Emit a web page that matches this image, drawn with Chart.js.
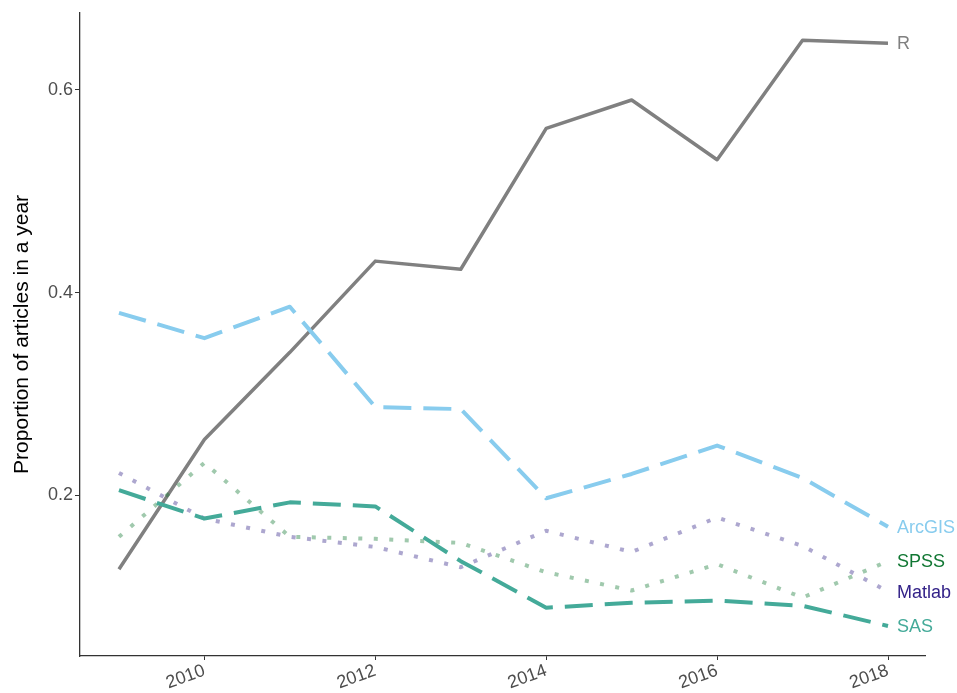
<!DOCTYPE html>
<html>
<head>
<meta charset="utf-8">
<script src="https://cdn.jsdelivr.net/npm/chart.js@4/dist/chart.umd.min.js"></script>
<style>
html,body{margin:0;padding:0;background:#fff;}
#wrap{width:957px;height:693px;position:relative;}
</style>
</head>
<body>
<div id="wrap"><canvas id="c" width="957" height="693"></canvas></div>
<script>
const years = [2009,2010,2011,2012,2013,2014,2015,2016,2017,2018];
const xTicks = [2010,2012,2014,2016,2018];
const yTicks = [0.2,0.4,0.6];
const seriesNames = ['SAS','SPSS','Matlab','ArcGIS','R'];
const R_vals      = [0.127,0.255,0.341,0.431,0.423,0.562,0.590,0.531,0.649,0.646];
const ArcGIS_vals = [0.380,0.355,0.386,0.287,0.285,0.197,0.221,0.249,0.217,0.169];
const SAS_vals    = [0.205,0.177,0.193,0.189,0.135,0.089,0.094,0.096,0.091,0.071];
const Matlab_vals = [0.222,0.177,0.159,0.149,0.129,0.165,0.144,0.178,0.150,0.105];
const SPSS_vals   = [0.159,0.232,0.159,0.157,0.153,0.124,0.106,0.132,0.099,0.135];

const FONT = "'Liberation Sans', Arial, sans-serif";

function pts(vals){ return years.map((y,i)=>({x:y,y:vals[i]})); }

const datasets = [
  {label:'SAS', data:pts(SAS_vals), borderColor:'#44AA99', borderDash:[28,12], borderWidth:4, labelColor:'#44AA99'},
  {label:'SPSS', data:pts(SPSS_vals), borderColor:'rgba(17,119,51,0.4)', borderDash:[4,11.5], borderWidth:4, labelColor:'#117733'},
  {label:'Matlab', data:pts(Matlab_vals), borderColor:'rgba(51,34,136,0.4)', borderDash:[4,11.5], borderWidth:4, labelColor:'#332288'},
  {label:'ArcGIS', data:pts(ArcGIS_vals), borderColor:'#88CCEE', borderDash:[28,12], borderWidth:4, labelColor:'#88CCEE'},
  {label:'R', data:pts(R_vals), borderColor:'#808080', borderDash:[], borderWidth:3.5, labelColor:'#808080'}
].map(d=>Object.assign(d,{fill:false,pointRadius:0,tension:0,borderCapStyle:'butt',borderJoinStyle:'round'}));

const endLabels = {
  id:'endLabels',
  afterDatasetsDraw(chart){
    const ctx = chart.ctx;
    ctx.save();
    ctx.font = "18px " + FONT;
    ctx.textAlign = 'left';
    ctx.textBaseline = 'middle';
    chart.data.datasets.forEach((ds,i)=>{
      const meta = chart.getDatasetMeta(i);
      const p = meta.data[meta.data.length-1];
      ctx.fillStyle = ds.labelColor;
      ctx.fillText(ds.label, p.x + 9, p.y + 1);
    });
    ctx.restore();
  }
};

new Chart(document.getElementById('c'), {
  type:'line',
  data:{datasets},
  options:{
    responsive:false,
    animation:false,
    layout:{padding:{left:0,top:5,right:32,bottom:0}},
    plugins:{legend:{display:false},tooltip:{enabled:false}},
    scales:{
      x:{
        type:'linear', min:2008.544, max:2018.433,
        afterBuildTicks(s){ s.ticks = xTicks.map(v=>({value:v})); },
        afterFit(s){ s.height = 37; },
        grid:{drawOnChartArea:false, drawTicks:true, tickLength:4, color:'#333333'},
        border:{display:true, color:'#333333', width:1.3},
        ticks:{color:'#4D4D4D', font:{family:FONT,size:18}, minRotation:20, maxRotation:20, padding:0,
               callback:(v)=>String(v)}
      },
      y:{
        type:'linear', min:0.0414, max:0.676,
        afterBuildTicks(s){ s.ticks = yTicks.map(v=>({value:v})); },
        afterFit(s){ s.width = 80; },
        grid:{drawOnChartArea:false, drawTicks:true, tickLength:5, color:'#333333'},
        border:{display:true, color:'#333333', width:1.3},
        ticks:{color:'#4D4D4D', font:{family:FONT,size:18}, padding:2, callback:(v)=>v.toFixed(1)},
        title:{display:true, text:'Proportion of articles in a year', color:'#000000', font:{family:FONT,size:21}, padding:{top:10,bottom:0}}
      }
    }
  },
  plugins:[endLabels]
});
</script>
</body>
</html>
